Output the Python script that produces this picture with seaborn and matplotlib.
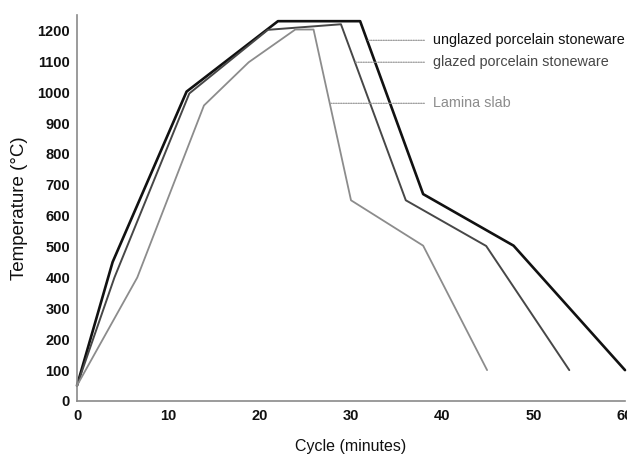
import numpy as np
import pandas as pd
import matplotlib
matplotlib.use("Agg")
import matplotlib.pyplot as plt
import seaborn as sns
from matplotlib.ticker import MultipleLocator

# Data
unglazed_t = [0, 3.9, 12.0, 22.0, 31.0, 37.9, 47.8, 60.0]
unglazed_T = [50, 450, 1002, 1230, 1230, 670, 503, 100]
glazed_t = [0, 4.1, 12.3, 20.9, 28.9, 36.0, 44.8, 53.9]
glazed_T = [50, 400, 996, 1202, 1220, 650, 502, 100]
lamina_t = [0, 6.6, 13.9, 18.8, 23.9, 25.9, 30.0, 37.9, 44.9]
lamina_T = [50, 400, 957, 1097, 1203, 1203, 650, 503, 100]

names = ["unglazed porcelain stoneware", "glazed porcelain stoneware", "Lamina slab"]
colors = ["#111111", "#474747", "#8c8c8c"]
widths = [1.9, 1.4, 1.3]
label_y = [1168, 1097, 964]

sns.set_style("white")
plt.rcParams['font.family'] = ['Liberation Sans', 'DejaVu Sans']

fig = plt.figure(figsize=(6.27, 4.59), dpi=100)
ax = fig.add_axes([77/627, 1 - 401/459, 548/627, (401 - 15)/459])

series = [(unglazed_t, unglazed_T), (glazed_t, glazed_T), (lamina_t, lamina_T)]
for (t, T), c, w in zip(series, colors, widths):
    df = pd.DataFrame({"t": t, "T": T})
    sns.lineplot(data=df, x="t", y="T", sort=False, color=c, linewidth=w,
                 ax=ax, clip_on=False, estimator=None)

ax.set_xlim(0, 60)
ax.set_ylim(0, 1250)
ax.xaxis.set_major_locator(MultipleLocator(10))
ax.xaxis.set_minor_locator(MultipleLocator(5))
ax.yaxis.set_major_locator(MultipleLocator(100))
ax.yaxis.set_minor_locator(MultipleLocator(50))

for s in ["top", "right"]:
    ax.spines[s].set_visible(False)
for s in ["left", "bottom"]:
    ax.spines[s].set_color("#8a8a8a")
    ax.spines[s].set_linewidth(1.2)

ax.tick_params(axis="both", which="both", direction="out", length=4,
               width=1.0, color="#8a8a8a", labelsize=10.5, labelcolor="#111111")
ax.tick_params(axis="x", which="major", pad=2)
ax.tick_params(axis="y", which="major", pad=1)
for lab in ax.get_xticklabels() + ax.get_yticklabels():
    lab.set_fontweight("bold")

ax.set_xlabel("Cycle (minutes)", fontsize=11.5, color="#111111", labelpad=11)
ax.set_ylabel("Temperature (°C)", fontsize=13.5, color="#111111", labelpad=7)

# Leader labels
for (t, T), name, c, ly in zip(series, names, colors, label_y):
    i_peak = int(np.argmax(T[::-1]))
    i_last_peak = len(T) - 1 - i_peak
    xs = np.array(t[i_last_peak:])
    ys = np.array(T[i_last_peak:])
    x0 = float(np.interp(ly, ys[::-1], xs[::-1]))
    ax.annotate(name, xy=(x0, ly), xytext=(39.0, ly), textcoords="data",
                va="center", ha="left", fontsize=10.4, color=c,
                arrowprops=dict(arrowstyle="-", color="#9a9a9a", lw=0.9,
                                linestyle=(0, (1, 1)), shrinkA=4, shrinkB=0),
                annotation_clip=False)

fig.savefig("out.png", dpi=100)
